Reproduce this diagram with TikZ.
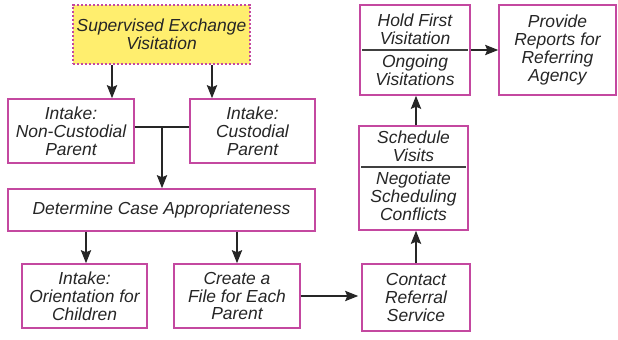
\documentclass[tikz,border=0pt]{standalone}
\usepackage{fontspec}
\setmainfont{Liberation Sans}
\usetikzlibrary{arrows.meta}
\definecolor{boxline}{RGB}{196,72,160}
\definecolor{boxfill}{RGB}{255,238,110}
\begin{document}
\begin{tikzpicture}[x=1bp,y=-1bp,
  every node/.style={font=\fontsize{17.5}{18}\selectfont\itshape, align=center, inner sep=0pt, text=black!85},
  stepbox/.style={draw=boxline, line width=1.4bp, fill=white},
  startbox/.style={draw=boxline, line width=2bp, dotted, fill=boxfill},
  flow/.style={line width=2.4bp, black!85, -{Stealth[length=13bp,width=10bp,inset=2bp]}},
  link/.style={line width=2.4bp, black!85},
  divider/.style={line width=1.2bp, black!75}]
\useasboundingbox (0,0) rectangle (618,339);

% start of the process
\node[startbox, minimum width=177bp, minimum height=59bp] (sev) at (161.5,34.5) {Supervised Exchange\\Visitation};

% intake of both parents
\node[stepbox, minimum width=126bp, minimum height=64bp] (ncp) at (71,131) {Intake:\\Non-Custodial\\Parent};
\node[stepbox, minimum width=125bp, minimum height=64bp] (cp) at (252.5,131) {Intake:\\Custodial\\Parent};

\node[stepbox, minimum width=307bp, minimum height=42bp] (det) at (161.5,210) {Determine Case Appropriateness};

\node[stepbox, minimum width=125bp, minimum height=64bp] (ori) at (84.5,296) {Intake:\\Orientation for\\Children};
\node[stepbox, minimum width=126bp, minimum height=64bp] (file) at (237,296) {Create a\\File for Each\\Parent};

\node[stepbox, minimum width=108bp, minimum height=67bp] (contact) at (416,297.5) {Contact\\Referral\\Service};

% two-part boxes
\node[stepbox, minimum width=109bp, minimum height=104bp] (sched) at (413.5,178) {};
\node (schedtop) at (413.5,146) {Schedule\\Visits};
\node (schedbot) at (413.5,196.5) {Negotiate\\Scheduling\\Conflicts};
\draw[divider] ([xshift=3bp]sched.west |- 0,167) -- ([xshift=-3bp]sched.east |- 0,167);

\node[stepbox, minimum width=110bp, minimum height=90bp] (hold) at (415,50) {};
\node (holdtop) at (415,29) {Hold First\\Visitation};
\node (holdbot) at (415,70.5) {Ongoing\\Visitations};
\draw[divider] ([xshift=3bp]hold.west) -- ([xshift=-3bp]hold.east);

\node[stepbox, minimum width=117bp, minimum height=90bp] (prov) at (557.5,50) {Provide\\Reports for\\Referring\\Agency};

% connectors
\draw[flow] (sev.south -| ncp.north) ++(41,0) coordinate (s1) -- (s1 |- ncp.north);
\draw[flow] (sev.south -| cp.north) ++(-40.5,0) coordinate (s2) -- (s2 |- cp.north);

\coordinate (junction) at (162,127);
\draw[link] (ncp.east |- junction) -- (cp.west |- junction);
\draw[flow] (junction) -- (junction |- det.north);

\draw[flow] (det.south -| ori.north) ++(1.5,0) coordinate (d1) -- (d1 |- ori.north);
\draw[flow] (det.south -| file.north) coordinate (d2) -- (d2 |- file.north);

\draw[flow, shorten >=3bp] (file.east) -- (contact.west |- file.east);
\draw[flow] (contact.north) -- (contact.north |- sched.south);
\draw[flow] (sched.north -| contact.north) -- (contact.north |- hold.south);
\draw[flow] (hold.east) -- (prov.west);
\end{tikzpicture}
\end{document}
